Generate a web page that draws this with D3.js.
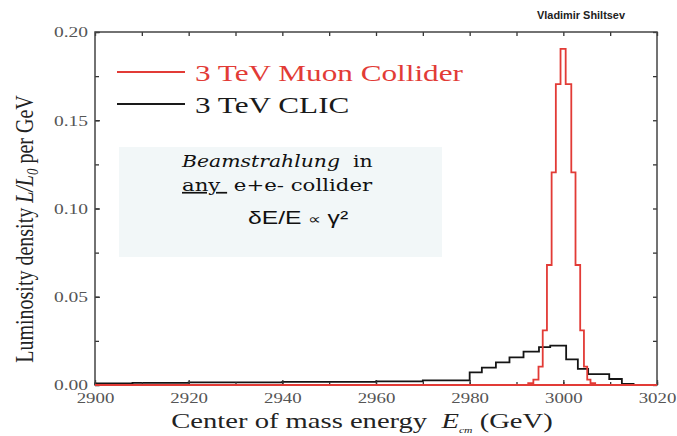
<!DOCTYPE html>
<html>
<head>
<meta charset="utf-8">
<script src="https://cdn.jsdelivr.net/npm/d3@7"></script>
<style>
  body { margin: 0; background: #fff; }
  svg { display: block; }
</style>
</head>
<body>
<div id="chart"></div>
<script>
// histogram bin edges (GeV) and heights (L/L0 per GeV)
var muonEdges = [2992.5, 2993.6, 2994.7, 2995.6, 2996.5, 2997.5, 2998.4, 2999.4, 3000.5, 3001.7, 3002.6, 3003.6, 3004.4, 3005.1, 3005.8, 3006.8];
var muonValues = [0.001, 0.003, 0.0104, 0.031, 0.068, 0.1205, 0.1705, 0.1904, 0.1705, 0.1205, 0.068, 0.031, 0.0104, 0.003, 0.001];

var clicEdges = [2900, 2908, 2920, 2940, 2960, 2970, 2980, 2982.6, 2985.6, 2988.5, 2991.5, 2994.8, 2997.2, 3000.6, 3003.1, 3005.3, 3009.8, 3012.5, 3015];
var clicValues = [0.0009, 0.0012, 0.0015, 0.0018, 0.0021, 0.0026, 0.0072, 0.0098, 0.0128, 0.0157, 0.0189, 0.0215, 0.0223, 0.0145, 0.0091, 0.0062, 0.0034, 0.0006];

var xTicks = [2900, 2920, 2940, 2960, 2980, 3000, 3020];
var yTicks = [0.00, 0.05, 0.10, 0.15, 0.20];
var legendLabels = ["3 TeV Muon Collider", "3 TeV CLIC"];

var width = 677, height = 436;
var margin = {top: 32, right: 20, bottom: 51, left: 95};
var sx = 1.3; // the source picture is stretched sideways

var svg = d3.select("#chart").append("svg")
  .attr("width", width)
  .attr("height", height);

var x = d3.scaleLinear().domain([2900, 3020]).range([margin.left, width - margin.right]);
var y = d3.scaleLinear().domain([0, 0.2]).range([height - margin.bottom, margin.top]);

var red = "#e23b36";

// annotation box
svg.append("rect")
  .attr("x", 119).attr("y", 147)
  .attr("width", 323).attr("height", 110)
  .attr("fill", "#f2f7f8");

// step path helper
function stepPoints(edges, values) {
  var pts = [[x.domain()[0], 0], [edges[0], 0]];
  for (var i = 0; i < values.length; i++) {
    pts.push([edges[i], values[i]]);
  }
  pts.push([edges[edges.length - 1], 0]);
  pts.push([x.domain()[1], 0]);
  return pts;
}
var line = d3.line()
  .x(function(d) { return x(d[0]); })
  .y(function(d) { return y(d[1]); })
  .curve(d3.curveStepAfter);

svg.append("path")
  .attr("d", line(stepPoints(clicEdges, clicValues)))
  .attr("fill", "none")
  .attr("stroke", "#151515")
  .attr("stroke-width", 1.8);

svg.append("path")
  .attr("d", line(stepPoints(muonEdges, muonValues)))
  .attr("fill", "none")
  .attr("stroke", red)
  .attr("stroke-width", 1.8);

// axes with inward ticks
var minorX = d3.range(2900, 3021, 10);
var minorY = d3.range(0, 0.2001, 0.025);

function tickStyle(g) {
  g.select(".domain").remove();
  g.selectAll("line").attr("stroke", "#333").attr("stroke-width", 1.3);
}

svg.append("g")
  .attr("transform", "translate(0," + y(0) + ")")
  .call(d3.axisBottom(x).tickValues(minorX).tickSize(-3).tickFormat(""))
  .call(tickStyle);
svg.append("g")
  .attr("transform", "translate(0," + y(0) + ")")
  .call(d3.axisBottom(x).tickValues(xTicks).tickSize(-5).tickPadding(8).tickFormat(d3.format("d")))
  .call(tickStyle)
  .call(function(g) {
    g.selectAll("text")
      .attr("transform", "scale(" + sx + ",1)")
      .attr("font-family", "Liberation Serif")
      .attr("font-size", 14.5)
      .attr("fill", "#555");
  });
svg.append("g")
  .attr("transform", "translate(0," + y(0.2) + ")")
  .call(d3.axisTop(x).tickValues(minorX).tickSize(-4).tickFormat(""))
  .call(tickStyle);

svg.append("g")
  .attr("transform", "translate(" + x(2900) + ",0)")
  .call(d3.axisLeft(y).tickValues(minorY).tickSize(-4).tickFormat(""))
  .call(tickStyle);
svg.append("g")
  .attr("transform", "translate(" + x(2900) + ",0)")
  .call(d3.axisLeft(y).tickValues(yTicks).tickSize(-5).tickPadding(7).tickFormat(d3.format(".2f")))
  .call(tickStyle)
  .call(function(g) {
    g.selectAll("text")
      .attr("transform", "scale(" + sx + ",1)")
      .attr("x", -7 / sx)
      .attr("font-family", "Liberation Serif")
      .attr("font-size", 15)
      .attr("fill", "#555");
  });
svg.append("g")
  .attr("transform", "translate(" + x(3020) + ",0)")
  .call(d3.axisRight(y).tickValues(minorY).tickSize(-4).tickFormat(""))
  .call(tickStyle);

// frame
svg.append("rect")
  .attr("x", x(2900)).attr("y", y(0.2))
  .attr("width", x(3020) - x(2900)).attr("height", y(0) - y(0.2))
  .attr("fill", "none")
  .attr("stroke", "#444")
  .attr("stroke-width", 1.5);
svg.append("line")
  .attr("x1", x(2900)).attr("x2", x(3020))
  .attr("y1", y(0)).attr("y2", y(0))
  .attr("stroke", red).attr("stroke-width", 1.8);

// legend
var legendColors = [red, "#1a1a1a"];
legendLabels.forEach(function(label, i) {
  var ly = 72 + i * 32;
  svg.append("line")
    .attr("x1", 117).attr("x2", 185)
    .attr("y1", ly).attr("y2", ly)
    .attr("stroke", legendColors[i])
    .attr("stroke-width", 1.8);
  svg.append("text")
    .attr("transform", "translate(195," + (ly + 9) + ") scale(1.3,1)")
    .attr("font-family", "Liberation Serif")
    .attr("font-size", 24)
    .attr("fill", legendColors[i])
    .text(label);
});

// annotation text
var t1 = svg.append("text")
  .attr("transform", "translate(182,167) scale(1.2,1)")
  .attr("font-family", "DejaVu Serif")
  .attr("font-size", 17)
  .attr("fill", "#111");
t1.append("tspan").attr("font-style", "italic").text("Beamstrahlung");
t1.append("tspan").text("\u00a0 in");

var t2 = svg.append("text")
  .attr("transform", "translate(182,191) scale(1.25,1)")
  .attr("font-family", "DejaVu Serif")
  .attr("font-size", 17)
  .attr("fill", "#111");
t2.append("tspan").attr("text-decoration", "underline").text("any\u00a0");
t2.append("tspan").text(" e+e- collider");

var t3 = svg.append("text")
  .attr("transform", "translate(248,224) scale(1.3,1)")
  .attr("font-family", "Liberation Sans")
  .attr("font-size", 19)
  .attr("fill", "#111");
t3.append("tspan").text("\u03b4E/E ");
t3.append("tspan").attr("font-size", 14).text("\u221d");
t3.append("tspan").text(" \u03b3\u00b2");

// author
svg.append("text")
  .attr("transform", "translate(581,19) scale(0.95,1)")
  .attr("text-anchor", "middle")
  .attr("font-family", "Liberation Sans")
  .attr("font-weight", "bold")
  .attr("font-size", 11.5)
  .attr("fill", "#222")
  .text("Vladimir Shiltsev");

// x axis title
var xt = svg.append("text")
  .attr("transform", "translate(362,428) scale(1.3,1)")
  .attr("text-anchor", "middle")
  .attr("font-family", "Liberation Serif")
  .attr("font-size", 22)
  .attr("fill", "#222");
xt.append("tspan").text("Center of mass energy \u00a0");
xt.append("tspan").attr("font-style", "italic").text("E");
xt.append("tspan").attr("font-style", "italic").attr("font-size", 9).attr("dy", 5).text("cm");
xt.append("tspan").attr("dy", -5).text(" (GeV)");

// y axis title
var yt = svg.append("text")
  .attr("transform", "translate(33,229) rotate(-90) scale(1,1.3)")
  .attr("text-anchor", "middle")
  .attr("font-family", "Liberation Serif")
  .attr("font-size", 20)
  .attr("fill", "#222");
yt.append("tspan").text("Luminosity density ");
yt.append("tspan").attr("font-style", "italic").text("L/L");
yt.append("tspan").attr("font-style", "italic").attr("font-size", 13).attr("dy", 4).text("0");
yt.append("tspan").attr("dy", -4).text(" per GeV");
</script>
</body>
</html>
